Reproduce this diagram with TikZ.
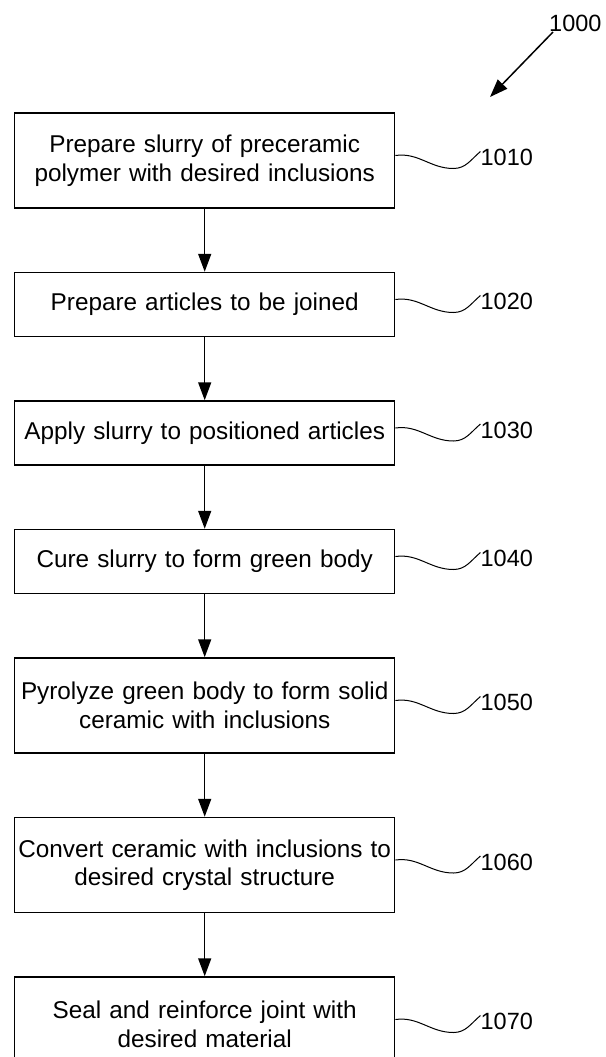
\documentclass[tikz,border=0pt]{standalone}
\usepackage{fontspec}
\setmainfont{Liberation Sans}
\usetikzlibrary{positioning, arrows.meta, calc}

\begin{document}
\begin{tikzpicture}[
    x=1pt, y=1pt,
    node distance=63pt,
    box/.style={draw, line width=1.5pt, align=center, text width=380pt, inner xsep=0pt,
                minimum height=64pt, font=\fontsize{24.3}{28.5}\selectfont},
    tall/.style={box, minimum height=95pt},
    arr/.style={-{Triangle[length=18pt,width=13pt]}, line width=1.5pt},
    refnum/.style={anchor=west, inner sep=0pt, font=\fontsize{23.5}{28}\selectfont},
    lead/.style={line width=1pt}
]
\useasboundingbox (0,0) rectangle (605,-1057);
\node[tall] (slurry) at (204.7,-160.5) {Prepare slurry of preceramic\\polymer with desired inclusions};
\node[box, below=of slurry] (articles) {Prepare articles to be joined};
\node[box, below=of articles] (apply) {Apply slurry to positioned articles};
\node[box, below=of apply] (cure) {Cure slurry to form green body};
\node[tall, below=of cure] (pyro) {Pyrolyze green body to form solid\\ceramic with inclusions};
\node[tall, below=of pyro] (convert) {Convert ceramic with inclusions to\\desired crystal structure};
\node[tall, below=of convert] (seal) {Seal and reinforce joint with\\desired material};

\foreach \a/\b in {slurry/articles, articles/apply, apply/cure, cure/pyro, pyro/convert, convert/seal}
    \draw[arr] (\a) -- (\b);

% reference numerals with wavy leaders
\foreach \n/\num in {slurry/1010, articles/1020, apply/1030, cure/1040, pyro/1050, convert/1060, seal/1070} {
    \node[refnum] (r\num) at ($(\n.east)+(85,3)$) {\num};
    \draw[lead] ($(\n.east)+(0,5)$) to[out=8,in=180] ++(58,-13) to[out=0,in=220] ([yshift=6pt]r\num.west);
}

\node[refnum] (fig) at (549,-23.5) {1000};
\coordinate (figtip) at (490,-97);
\draw[arr] ([xshift=4pt]fig.south west) -- (figtip);
\end{tikzpicture}
\end{document}
